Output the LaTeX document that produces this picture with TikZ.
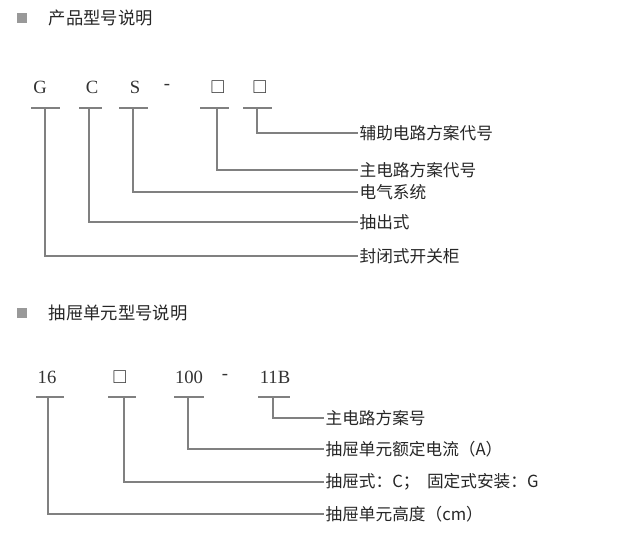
\documentclass[tikz,border=0pt]{standalone}
\usepackage{amssymb}
\usepackage{fontspec}
\setmainfont{Liberation Serif}
\newfontfamily\cjk{Noto Sans CJK SC}
\begin{document}
\begin{tikzpicture}[x=0.75pt,y=-0.75pt,
  ln/.style={draw=black!50,line width=1.1pt},
  code/.style={font=\fontsize{14}{14}\selectfont,text=black!80},
  lab/.style={anchor=west,font=\cjk\fontsize{12.5}{13}\selectfont,text=black!85,inner sep=1pt},
  sqmark/.style={fill=black!40,minimum size=7pt,inner sep=0pt},
  title/.style={anchor=west,font=\cjk\fontsize{13}{14}\selectfont,text=black!85}]
\path[use as bounding box] (0,0) rectangle (626,543);
% section 1
\node[sqmark] (m1) at (22,18) {};
\node[title] (t1) at (44,18) {产品型号说明};
\foreach \n/\x/\t in {g/40/G,c/92/C,s/135/S,d/167/-,b1/218/$\square$,b2/260/$\square$}
  \node[code] (\n) at (\x,87) {\t};
\foreach \a/\b in {31/60,79/102,119/148,200/229,243/272}
  \draw[ln] (\a,108) -- (\b,108);
\node[lab] (l1) at (358,133) {辅助电路方案代号};
\node[lab] (l2) at (358,170) {主电路方案代号};
\node[lab] (l3) at (358,192) {电气系统};
\node[lab] (l4) at (358,222) {抽出式};
\node[lab] (l5) at (358,256) {封闭式开关柜};
\draw[ln] (257,108) |- (l1.west);
\draw[ln] (217,108) |- (l2.west);
\draw[ln] (133,108) |- (l3.west);
\draw[ln] (89,108) |- (l4.west);
\draw[ln] (45,108) |- (l5.west);
% section 2
\node[sqmark] (m2) at (22,313) {};
\node[title] (t2) at (44,313) {抽屉单元型号说明};
\foreach \n/\x/\t in {h/47/16,q/120/$\square$,r/189/100,e/225/-,k/275/11B}
  \node[code] (\n) at (\x,377) {\t};
\foreach \a/\b in {36/64,108/136,174/204,258/290}
  \draw[ln] (\a,397) -- (\b,397);
\node[lab] (p1) at (324,418) {主电路方案号};
\node[lab] (p2) at (324,449) {抽屉单元额定电流（A）};
\node[lab] (p3) at (324,482) {抽屉式：C；\ \ 固定式安装：G};
\node[lab] (p4) at (324,514) {抽屉单元高度（cm）};
\draw[ln] (273,397) |- (p1.west);
\draw[ln] (188,397) |- (p2.west);
\draw[ln] (124,397) |- (p3.west);
\draw[ln] (48,397) |- (p4.west);
\end{tikzpicture}
\end{document}
